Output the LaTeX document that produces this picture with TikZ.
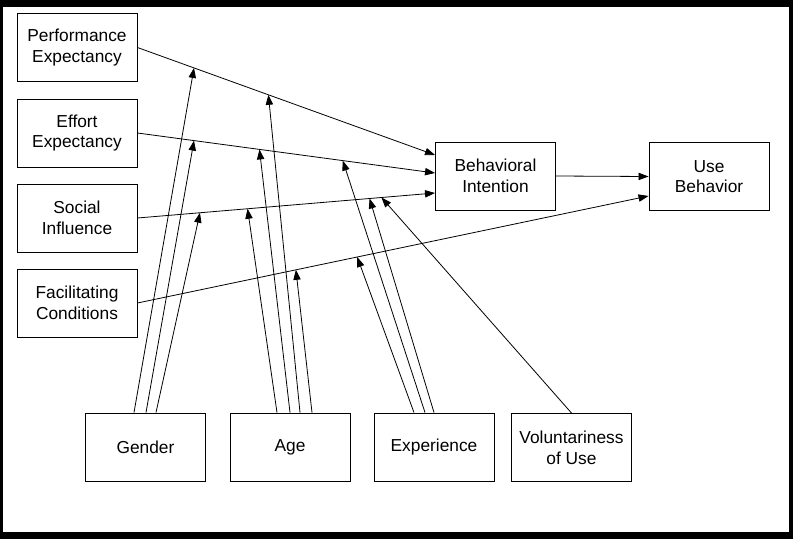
\documentclass[tikz,border=0pt]{standalone}
\usepackage{fontspec}
\setmainfont{Liberation Sans}
\usetikzlibrary{arrows.meta,calc}

\begin{document}
\begin{tikzpicture}[x=0.75pt,y=-0.75pt,every node/.style={font=\fontsize{13}{15.5}\selectfont},
  construct/.style={draw,line width=0.7pt,align=center,minimum width=90pt,minimum height=51pt,inner sep=0pt},
  link/.style={-{Triangle[length=7.5pt,width=5.5pt]},line width=0.6pt}]
% frame
\fill[black] (0,0) rectangle (793,539);
\fill[white] (3,7) rectangle (789,532);
% constructs
\node[construct] (pe) at (77,47.5) {Performance\\Expectancy};
\node[construct] (ee) at (77,133) {Effort\\Expectancy};
\node[construct] (si) at (77,218) {Social\\Influence};
\node[construct] (fc) at (77,303) {Facilitating\\Conditions};
\node[construct] (bi) at (495.5,176) {Behavioral\\Intention};
\node[construct] (ub) at (709,176.5) {Use\\Behavior};
% moderators
\node[construct] (gender) at (145.5,447) {Gender};
\node[construct] (age) at (290,447) {Age};
\node[construct] (exp) at (434,447) {Experience};
\node[construct] (vol) at (571.5,447.5) {Voluntariness\\of Use};
% main paths
\draw[link] (pe.east) -- coordinate[pos=0.19] (pe1) coordinate[pos=0.44] (pe2) ($(bi.west)+(0,-21)$);
\draw[link] (ee.east) -- coordinate[pos=0.19] (ee1) coordinate[pos=0.41] (ee2) coordinate[pos=0.69] (ee3) ($(bi.west)+(0,-3)$);
\draw[link] (si.east) -- coordinate[pos=0.21] (si1) coordinate[pos=0.37] (si2) coordinate[pos=0.78] (si3) coordinate[pos=0.82] (si4) ($(bi.west)+(0,17)$);
\draw[link] (fc.east) -- coordinate[pos=0.31] (fc1) coordinate[pos=0.43] (fc2) ($(ub.west)+(0,19.5)$);
\draw[link] (bi.east) -- (ub.west);
% gender
\draw[link] ($(gender.north)+(-11.5,0)$) -- (pe1);
\draw[link] ($(gender.north)+(0.5,0)$) -- (ee1);
\draw[link] ($(gender.north)+(10.5,0)$) -- (si1);
% age
\draw[link] ($(age.north)+(-13,0)$) -- (si2);
\draw[link] (age.north) -- (ee2);
\draw[link] ($(age.north)+(10,0)$) -- (pe2);
\draw[link] ($(age.north)+(22,0)$) -- (fc1);
% experience
\draw[link] ($(exp.north)+(-20,0)$) -- (fc2);
\draw[link] ($(exp.north)+(-9,0)$) -- (ee3);
\draw[link] (exp.north) -- (si3);
% voluntariness
\draw[link] (vol.north) -- (si4);
\end{tikzpicture}
\end{document}
